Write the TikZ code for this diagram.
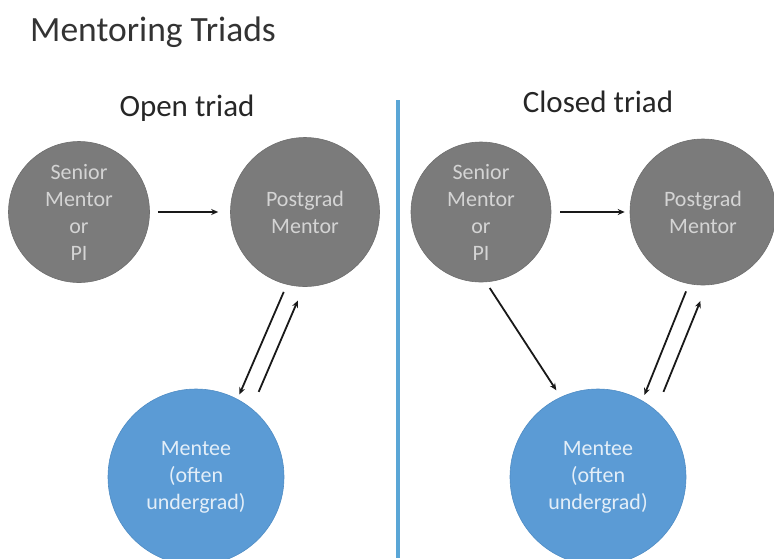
\documentclass[tikz,border=0pt]{standalone}
\usepackage{fontspec}
\setmainfont{Carlito}
\usetikzlibrary{arrows.meta}

\definecolor{mentorgray}{HTML}{7B7B7B}
\definecolor{mentorline}{HTML}{6E6E6E}
\definecolor{mentortext}{HTML}{D4D4D4}
\definecolor{menteeblue}{HTML}{5B9BD5}
\definecolor{menteeline}{HTML}{4F8CC4}
\definecolor{menteetext}{HTML}{E3EEF8}
\definecolor{splitblue}{HTML}{5AA6D6}

\begin{document}
\begin{tikzpicture}[x=1pt, y=-1pt,
  mentor/.style={shape=circle, fill=mentorgray, draw=mentorline, line width=0.6pt,
    text=mentortext, align=center, inner sep=0pt,
    font=\fontsize{22}{27}\selectfont},
  mentee/.style={shape=circle, fill=menteeblue, draw=menteeline, line width=0.6pt,
    text=menteetext, align=center, inner sep=0pt, minimum size=176pt,
    font=\fontsize{22}{27}\selectfont},
  heading/.style={text=black!85, font=\fontsize{31}{36}\selectfont, inner sep=0pt},
  link/.style={-{Stealth[length=7pt,width=6pt]}, line width=1.8pt, black!90},
]
\useasboundingbox (0,0) rectangle (774,558);

%title
\node[anchor=base west, text=black!80, font=\fontsize{35.5}{40}\selectfont, inner sep=0pt]
  (title) at (30,41) {Mentoring Triads};

%divider
\draw[splitblue, line width=3.5pt] (398,100) -- (398,558);

%open triad
\node[heading, anchor=base] (open) at (187,116) {Open triad};

\node[mentor, minimum size=141pt] (sen1) at (79,212) {Senior\\Mentor\\or\\PI};
\node[mentor, minimum size=149pt] (post1) at (305,212) {Postgrad\\Mentor};
\node[mentee] (mentee1) at (196,477) {Mentee\\(often\\undergrad)};

\draw[link, shorten <=8pt, shorten >=12pt] (sen1) -- (post1);
\draw[link, shorten <=8pt, shorten >=5pt] (post1.256) -- (mentee1.62);
\draw[link, shorten <=18pt, shorten >=15pt] (mentee1.51) -- (post1.269);

%closed triad
\node[heading, anchor=base] (closed) at (598,112) {Closed triad};

\node[mentor, minimum size=140pt] (sen2) at (481,212) {Senior\\Mentor\\or\\PI};
\node[mentor, minimum size=146pt] (post2) at (703,212) {Postgrad\\Mentor};
\node[mentee] (mentee2) at (598,477) {Mentee\\(often\\undergrad)};

\draw[link, shorten <=9pt, shorten >=5pt] (sen2) -- (post2);
\draw[link, shorten <=7pt, shorten >=8pt] (sen2.274) -- (mentee2.115);
\draw[link, shorten <=8pt, shorten >=6pt] (post2.259) -- (mentee2.60);
\draw[link, shorten <=20pt, shorten >=17pt] (mentee2.49) -- (post2.273);

\end{tikzpicture}
\end{document}
